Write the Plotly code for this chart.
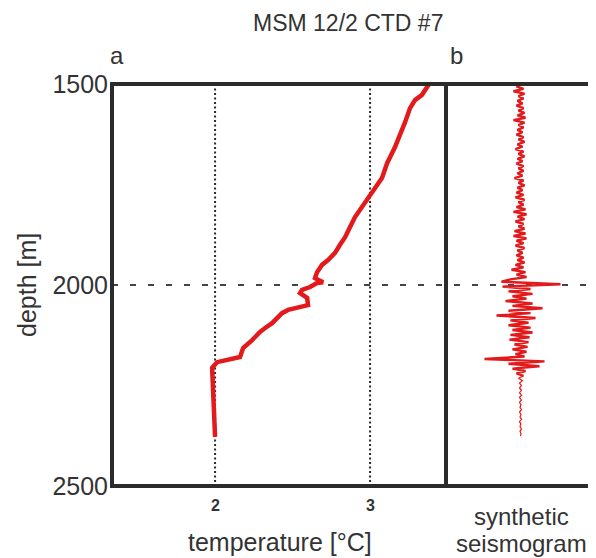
import numpy as np
import plotly.graph_objects as go

# Temperature profile (CTD)
temp_c = [3.381, 3.355, 3.335, 3.290, 3.258, 3.226, 3.194, 3.161, 3.129, 3.110,
          3.077, 3.032, 3.000, 2.968, 2.923, 2.903, 2.871, 2.839, 2.806, 2.774,
          2.729, 2.690, 2.658, 2.645, 2.697, 2.658, 2.613, 2.561, 2.548, 2.594,
          2.600, 2.548, 2.471, 2.432, 2.400, 2.368, 2.323, 2.290, 2.239, 2.181,
          2.161, 2.077, 2.013, 1.981, 1.987, 1.994, 2.000]
temp_depth = [1500, 1515, 1527, 1540, 1560, 1595, 1627, 1657, 1682, 1697,
              1734, 1759, 1776, 1796, 1818, 1831, 1856, 1881, 1900, 1920,
              1938, 1950, 1968, 1983, 1993, 1995, 2005, 2012, 2020, 2032,
              2050, 2055, 2062, 2070, 2082, 2095, 2107, 2117, 2137, 2157,
              2179, 2187, 2192, 2206, 2254, 2311, 2378]

# Synthetic seismogram amplitudes (arbitrary units), sampled every 6 m from 1500 m
seis_amp = [2, -4, 3, -7, 4, -2, 3, -3, 2, -4,
            3, -2, 4, -3, 5, -7, 4, -2, 3, -3,
            2, -4, 3, -2, 4, -3, 2, -5, 3, -2,
            4, -3, 2, -4, 3, -2, 3, -3, 2, -6,
            3, -2, 4, -3, 2, -4, 3, -5, 4, -2,
            3, -4, 5, -7, 6, -3, 4, -5, 3, -2,
            4, -6, 5, -7, 6, -4, 3, -5, 4, -3,
            2, -4, 3, -3, 4, -5, 3, -9, 5, -4,
            6, -10, -19, 40, -18, 10, -12, 12, -8, 6,
            -15, 12, -8, 22, -12, 10, -24, 15, -10, 8,
            -12, 10, -8, 12, -10, 9, -11, 8, -6, 7,
            -8, 6, -5, 4, -36, 24, -12, 19, -8, 5,
            -4, 3, -2, 2, -1, 1, -1, 1, -1, 1,
            -1, 1, -1, 0.5, -0.5, 1, -1, 0.5, -0.5, 1, -1, 0.5, -0.5, 1, -0.5, 0.5, 0]
seis_depth = list(1500 + 6 * np.arange(len(seis_amp)))

y_ticks = [1500, 2000, 2500]
x_ticks = [2, 3]

RED = "#e3191c"
DARK = "#2b2b2b"
TXT = "#333333"
FONT = "Liberation Sans, Arial, sans-serif"

split = 2226
i_split = seis_depth.index(split)

fig = go.Figure()
fig.add_trace(go.Scatter(x=temp_c, y=temp_depth, mode="lines",
                         line=dict(color=RED, width=4.5), xaxis="x", yaxis="y",
                         showlegend=False))
fig.add_trace(go.Scatter(x=seis_amp[:i_split + 1], y=seis_depth[:i_split + 1], mode="lines",
                         line=dict(color=RED, width=2.4), xaxis="x2", yaxis="y2",
                         showlegend=False))
fig.add_trace(go.Scatter(x=seis_amp[i_split:], y=seis_depth[i_split:], mode="lines",
                         line=dict(color=RED, width=1.2), xaxis="x2", yaxis="y2",
                         showlegend=False))

# plot area in window pixels: x 112..595, y 84..486
PL, PR, PT, PB = 112, 595, 84, 486
PW, PH = PR - PL, PB - PT
d1 = (446 - PL) / PW


def px(x):
    return (x - PL) / PW


def py(y):
    return (PB - y) / PH


shapes = []
for xv in x_ticks:
    shapes.append(dict(type="line", xref="x", yref="y", x0=xv, x1=xv, y0=1500, y1=2500,
                       line=dict(color=DARK, width=2, dash="2px,2.5px"), layer="below"))
shapes.append(dict(type="line", xref="paper", yref="y", x0=0, x1=1, y0=2000, y1=2000,
                   line=dict(color="#444444", width=2, dash="6px,12px"), layer="below"))
shapes.append(dict(type="rect", xref="paper", yref="paper", x0=0, x1=d1, y0=0, y1=1,
                   line=dict(color=DARK, width=4)))
shapes.append(dict(type="line", xref="paper", yref="paper", x0=d1, x1=1, y0=1, y1=1,
                   line=dict(color=DARK, width=4)))
shapes.append(dict(type="line", xref="paper", yref="paper", x0=d1, x1=1, y0=0, y1=0,
                   line=dict(color=DARK, width=4)))
shapes.append(dict(type="line", xref="paper", yref="paper", x0=1, x1=1, y0=0, y1=1,
                   line=dict(color="#9a9a9a", width=1)))


def ann(text, x, y, size, angle=0, yanchor="middle"):
    return dict(text=text, xref="paper", yref="paper", x=px(x), y=py(y), textangle=angle,
                showarrow=False, font=dict(size=size, color=TXT, family=FONT),
                xanchor="center", yanchor=yanchor)


annotations = [
    ann("MSM 12/2 CTD #7", 348, 8, 23, yanchor="top"),
    ann("a", 117, 55, 24),
    ann("b", 456, 55, 24),
    ann("depth [m]", 27, 285, 25, -90),
    ann("temperature [°C]", 280, 542, 25),
    ann("synthetic", 521, 516, 24),
    ann("seismogram", 521, 543, 24),
]
for xv in x_ticks:
    annotations.append(dict(text="<b>%d</b>" % xv, xref="x", yref="paper", x=xv, y=py(505),
                            showarrow=False, font=dict(size=16, color=TXT, family=FONT),
                            xanchor="center", yanchor="middle"))

# the page has an 8 px body margin, so the figure is 8 px smaller than the window
fig.update_layout(
    width=588, height=550,
    margin=dict(l=PL - 8, r=(8 + 588) - PR, t=PT - 8, b=(8 + 550) - PB),
    paper_bgcolor="white", plot_bgcolor="white",
    showlegend=False,
    xaxis=dict(domain=[0, d1], range=[1.335, 3.49], showgrid=False, zeroline=False,
               showticklabels=False, ticks="", showline=False),
    yaxis=dict(range=[2500, 1500], tickvals=y_ticks, ticktext=[str(v) for v in y_ticks],
               showgrid=False, zeroline=False, ticks="", showline=False,
               tickfont=dict(size=25, color=TXT, family=FONT), ticklabelstandoff=3),
    xaxis2=dict(domain=[d1, 1], range=[-74.5, 74.5], showgrid=False, zeroline=False,
                showticklabels=False, ticks="", showline=False),
    yaxis2=dict(range=[2500, 1500], anchor="x2", matches="y", showgrid=False, zeroline=False,
                showticklabels=False, ticks="", showline=False),
    shapes=shapes,
    annotations=annotations,
)

fig.write_html("out.html")
